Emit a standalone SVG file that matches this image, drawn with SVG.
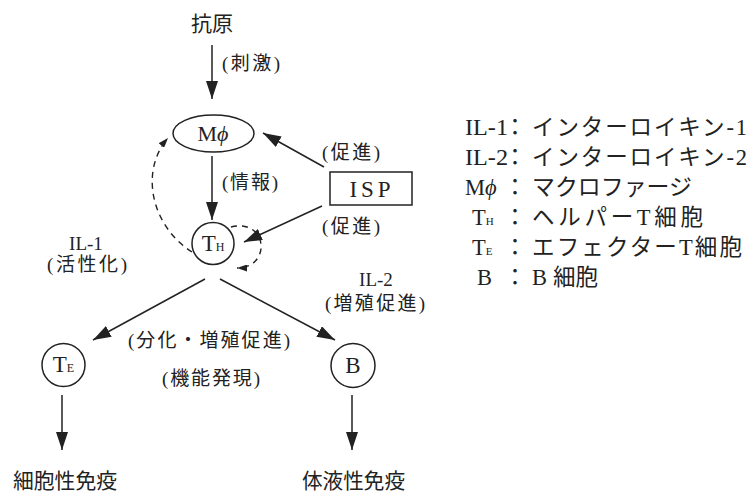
<svg xmlns="http://www.w3.org/2000/svg" width="752" height="494" viewBox="0 0 752 494">
<style>
text{font-family:"Liberation Serif","Noto Sans CJK JP",serif;fill:#222}
.lbl{font-size:19px}
.big{font-size:21px}
.leg{font-size:22.5px}
.ln{stroke:#222;stroke-width:1.5;fill:none}
.dash{stroke:#222;stroke-width:1.4;fill:none;stroke-dasharray:6 5}
.shape{stroke:#222;stroke-width:1.5;fill:#fff}
</style>
<defs>
<marker id="ah" viewBox="0 0 18 12" refX="18" refY="6" markerWidth="18" markerHeight="12" markerUnits="userSpaceOnUse" orient="auto">
<path d="M0,0 L18,6 L0,12 z" fill="#222"/>
</marker>
<marker id="ahs" viewBox="0 0 10 7" refX="10" refY="3.5" markerWidth="10" markerHeight="7" markerUnits="userSpaceOnUse" orient="auto">
<path d="M0,0 L10,3.5 L0,7 z" fill="#222"/>
</marker>
</defs>

<g id="connectors">
<line class="ln" x1="212" y1="45" x2="212" y2="99" marker-end="url(#ah)"/>
<line class="ln" x1="212" y1="156" x2="212" y2="220" marker-end="url(#ah)"/>
<line class="ln" x1="324" y1="167" x2="263" y2="133" marker-end="url(#ah)"/>
<line class="ln" x1="322" y1="206" x2="244" y2="242" marker-end="url(#ah)"/>
<line class="ln" x1="205" y1="279" x2="93" y2="340" marker-end="url(#ah)"/>
<line class="ln" x1="220" y1="279" x2="335" y2="340" marker-end="url(#ah)"/>
<line class="ln" x1="62" y1="395" x2="62" y2="450" marker-end="url(#ah)"/>
<line class="ln" x1="352" y1="395" x2="352" y2="450" marker-end="url(#ah)"/>
<path class="dash" d="M192,252 C150,225 140,170 168,138" marker-end="url(#ahs)"/>
<path class="dash" d="M231,227 C268,218 272,268 237,268" marker-end="url(#ahs)"/>
<text class="lbl" x="222" y="70" textLength="58" lengthAdjust="spacing">(刺激)</text>
<text class="lbl" x="222" y="189" textLength="56" lengthAdjust="spacing">(情報)</text>
<text class="lbl" x="322" y="159" textLength="58" lengthAdjust="spacing">(促進)</text>
<text class="lbl" x="322" y="233" textLength="58" lengthAdjust="spacing">(促進)</text>
<text class="lbl" x="86" y="250" text-anchor="middle">IL-1</text>
<text class="lbl" x="47" y="271" textLength="80" lengthAdjust="spacing">(活性化)</text>
<text class="lbl" x="376" y="286" text-anchor="middle">IL-2</text>
<text class="lbl" x="325" y="310" textLength="100" lengthAdjust="spacing">(増殖促進)</text>
<text class="lbl" x="128" y="347" textLength="162" lengthAdjust="spacing">(分化・増殖促進)</text>
<text class="lbl" x="162" y="385" textLength="98" lengthAdjust="spacing">(機能発現)</text>
</g>

<g id="antigen">
<text class="big" x="212" y="31" text-anchor="middle">抗原</text>
</g>

<g id="macrophage">
<ellipse class="shape" cx="213.5" cy="133.5" rx="40.5" ry="18.5"/>
<text x="213" y="141" text-anchor="middle" font-size="22">M<tspan font-style="italic">ϕ</tspan></text>
</g>

<g id="isp">
<rect class="shape" x="330" y="172" width="82" height="33"/>
<text x="372" y="197" text-anchor="middle" font-size="23" letter-spacing="4">ISP</text>
</g>

<g id="th">
<circle class="shape" cx="213" cy="243.5" r="21"/>
<text x="213" y="251" text-anchor="middle" font-size="23">T<tspan font-size="12">H</tspan></text>
</g>

<g id="te">
<circle class="shape" cx="63.5" cy="365" r="21.5"/>
<text x="63.5" y="372" text-anchor="middle" font-size="23">T<tspan font-size="12">E</tspan></text>
</g>

<g id="b">
<circle class="shape" cx="353" cy="365.5" r="22"/>
<text x="353" y="373" text-anchor="middle" font-size="23">B</text>
</g>

<g id="cellular">
<text class="big" x="13" y="488" textLength="104" lengthAdjust="spacingAndGlyphs">細胞性免疫</text>
</g>

<g id="humoral">
<text class="big" x="302" y="488" textLength="103" lengthAdjust="spacingAndGlyphs">体液性免疫</text>
</g>

<g id="legend">
<text class="leg" x="465" y="135" textLength="43" lengthAdjust="spacingAndGlyphs">IL-1</text>
<text class="leg" x="515" y="135" text-anchor="middle">：</text>
<text class="leg" x="532" y="135" textLength="215" lengthAdjust="spacing">インターロイキン-1</text>

<text class="leg" x="465" y="165" textLength="43" lengthAdjust="spacingAndGlyphs">IL-2</text>
<text class="leg" x="515" y="165" text-anchor="middle">：</text>
<text class="leg" x="532" y="165" textLength="215" lengthAdjust="spacing">インターロイキン-2</text>

<text class="leg" x="465" y="195">M<tspan font-style="italic">ϕ</tspan></text>
<text class="leg" x="515" y="195" text-anchor="middle">：</text>
<text class="leg" x="532" y="195" textLength="160" lengthAdjust="spacingAndGlyphs">マクロファージ</text>

<text class="leg" x="472" y="225">T<tspan font-size="11">H</tspan></text>
<text class="leg" x="515" y="225" text-anchor="middle">：</text>
<text class="leg" x="532" y="225" textLength="171" lengthAdjust="spacing">ヘルパーT細胞</text>

<text class="leg" x="472" y="255">T<tspan font-size="11">E</tspan></text>
<text class="leg" x="515" y="255" text-anchor="middle">：</text>
<text class="leg" x="532" y="255" textLength="210" lengthAdjust="spacing">エフェクターT細胞</text>

<text class="leg" x="477" y="285">B</text>
<text class="leg" x="515" y="285" text-anchor="middle">：</text>
<text class="leg" x="532" y="285">B<tspan x="553">細胞</tspan></text>
</g>
</svg>
